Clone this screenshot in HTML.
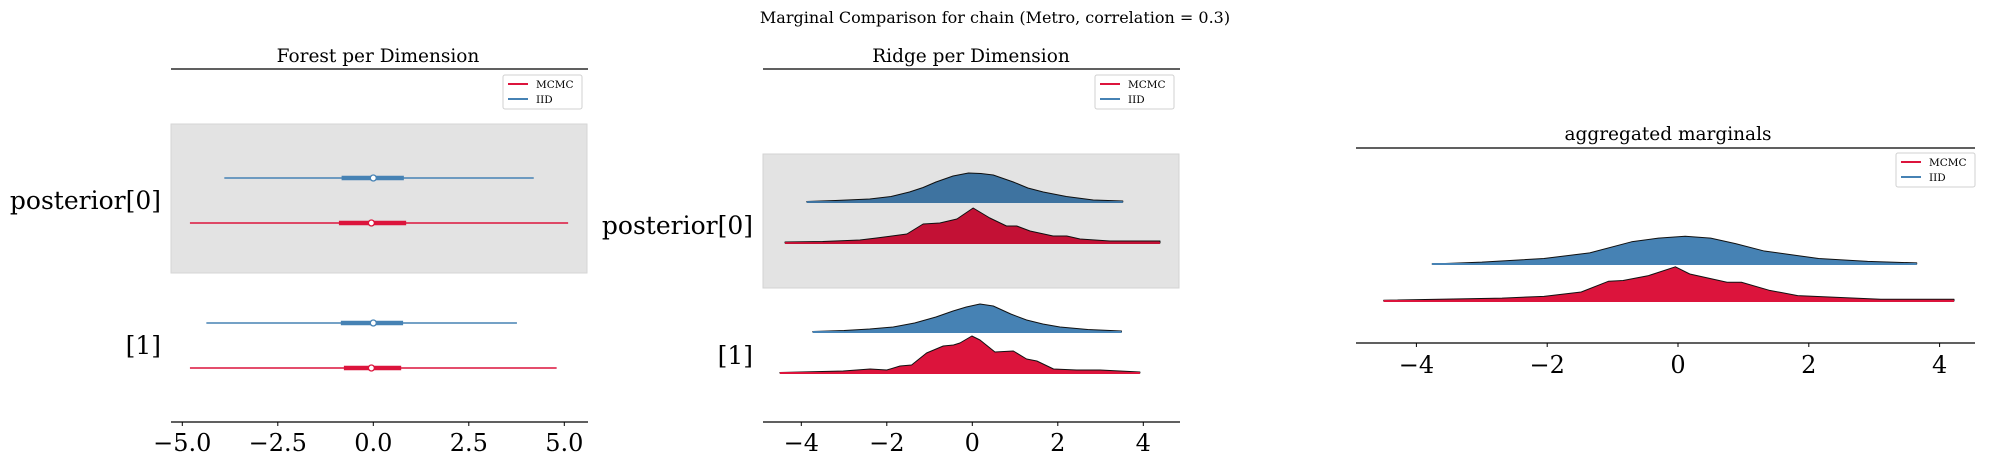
<!DOCTYPE html>
<html><head><meta charset="utf-8"><style>
html,body{margin:0;padding:0;background:#fff;}
svg{display:block;font-family:"DejaVu Serif","Liberation Serif",serif;}
</style></head><body>
<svg id="fig" width="1990" height="465" viewBox="0 0 1990 465" xmlns="http://www.w3.org/2000/svg">
<text x="995" y="23" font-size="16" text-anchor="middle">Marginal Comparison for chain (Metro, correlation = 0.3)</text>
</svg>
<script>
// ---- Forest data ----
const forestDims = ["posterior[0]", "[1]"];
const forestIidLo = [-3.9, -4.37];
const forestIidHi = [4.2, 3.76];
const forestIidQ1 = [-0.83, -0.85];
const forestIidQ3 = [0.8, 0.78];
const forestIidMed = [0.0, 0.0];
const forestMcmcLo = [-4.8, -4.8];
const forestMcmcHi = [5.1, 4.8];
const forestMcmcQ1 = [-0.9, -0.77];
const forestMcmcQ3 = [0.86, 0.73];
const forestMcmcMed = [-0.05, -0.05];
const forestTicks = [-5.0, -2.5, 0.0, 2.5, 5.0];
const forestTickLabels = ["\u22125.0", "\u22122.5", "0.0", "2.5", "5.0"];

// ---- Ridge data ----
const ridgeIid0X = [-3.87,-3.2,-2.4,-1.9,-1.47,-1.15,-0.85,-0.45,-0.09,0.2,0.49,0.96,1.3,1.66,2.2,2.83,3.52];
const ridgeIid0Y = [0.5,1.5,3,5.5,10,14.5,20,26,29,28.5,27,20,14,10,5.5,2,1];
const ridgeMcmc0X = [-4.38,-3.5,-2.63,-2.24,-1.53,-1.15,-0.76,-0.36,0.02,0.41,0.8,1.04,1.35,1.89,2.21,2.52,3.22,4.39];
const ridgeMcmc0Y = [1,1.5,3,5,9,19,20,24,35,25,17,17,12,7,7,4,2,2];
const ridgeIid1X = [-3.73,-3,-2.4,-1.85,-1.35,-0.85,-0.45,-0.14,0.18,0.49,0.9,1.27,1.65,2.05,2.7,3.49];
const ridgeIid1Y = [0.5,1.5,3,5,9,15,21,25,28,26,18,12,8,5,2.5,1];
const ridgeMcmc1X = [-4.5,-3.02,-2.39,-2.0,-1.69,-1.42,-1.07,-0.68,-0.44,-0.29,-0.01,0.18,0.53,0.96,1.27,1.51,1.9,2.44,2.99,3.92];
const ridgeMcmc1Y = [0.5,2,4,3,7,8,20,27,28,30,37,33,21,22,14,12,4,3,3,1];
const ridgeTicks = [-4, -2, 0, 2, 4];

// ---- Aggregated data ----
const aggIidX = [-3.76,-3,-2.05,-1.35,-0.71,-0.3,0.11,0.5,0.88,1.32,2.15,2.9,3.65];
const aggIidY = [0,5,15,30,60,70,75,70,55,35,15,7,3];
const aggMcmcX = [-4.5,-2.69,-2.05,-1.48,-1.06,-0.84,-0.46,-0.04,0.18,0.75,0.97,1.39,1.83,3.1,4.22];
const aggMcmcY = [2,8,13,25,55,57,70,95,75,52,52,30,15,5,5];
const aggTicks = [-4, -2, 0, 2, 4];

const NS = "http://www.w3.org/2000/svg";
const fig = document.getElementById('fig');
function mk(tag, attrs, parent) {
  const e = document.createElementNS(NS, tag);
  for (const k in attrs) e.setAttribute(k, attrs[k]);
  (parent || fig).appendChild(e);
  return e;
}
const RED = "#dc143c", BLUE = "#4682b4";

function axisBottom(g, x, x0, x1, y, ticks, labels, fs, ly) {
  const sp = mk('line', {x1:x0, x2:x1, y1:y, y2:y, stroke:'#000', 'stroke-width':1.2}, g);
  
  
  ticks.forEach((t, i) => {
    const tk = mk('line', {x1:x(t), x2:x(t), y1:y, y2:y+4, stroke:'#000', 'stroke-width':1}, g);
    
    
    const tl = mk('text', {x:x(t), y:ly, 'font-size':fs, 'text-anchor':'middle'}, g);
    tl.textContent = labels ? labels[i] : (t < 0 ? "\u2212" + Math.abs(t) : String(t));
    
    
  });
}
function topSpine(g, x0, x1, y) {
  const l = mk('line', {x1:x0, x2:x1, y1:y, y2:y, stroke:'#000', 'stroke-width':1.2}, g);
  
  
}
function title(g, cx, y, txt) {
  const t = mk('text', {x:cx, y:y, 'font-size':18.5, 'text-anchor':'middle'}, g);
  t.textContent = txt;
  
  
}
function legend(g, x, y) {
  const lg = mk('g', {}, g);
  
  
  mk('rect', {x:x, y:y, width:79, height:34, rx:2, fill:'#fff', stroke:'#d0d0d0', 'stroke-width':1}, lg);
  [["MCMC", RED], ["IID", BLUE]].forEach((d, i) => {
    const e = mk('g', {}, lg);
    
    
    mk('line', {x1:x+5, x2:x+25, y1:y+9+i*15, y2:y+9+i*15, stroke:d[1], 'stroke-width':2}, e);
    const t = mk('text', {x:x+33, y:y+13+i*15, 'font-size':10.5}, e);
    t.textContent = d[0];
  });
}
function ylabel(g, xr, y, txt) {
  const t = mk('text', {x:xr, y:y, 'font-size':25, 'text-anchor':'end'}, g);
  t.textContent = txt;
  
  
}
function ridge(g, x, xs, ys, base, scale, fill, name) {
  let d = "M" + x(xs[0]) + "," + base;
  xs.forEach((v, i) => { d += " L" + x(v) + "," + (base - ys[i] * scale); });
  d += " L" + x(xs[xs.length-1]) + "," + base + " Z";
  const p = mk('path', {d:d, fill:fill, stroke:'#111', 'stroke-width':1, 'stroke-linejoin':'round'}, g);
  
  
  const b = mk('line', {x1:x(xs[0]), x2:x(xs[xs.length-1]), y1:base, y2:base, stroke:fill, 'stroke-width':2}, g);
  
  
}

// ===== Forest panel =====
(function(){
  const g = mk('g', {});
  
  
  const x = v => 373.3 + v * 38.2;
  const rowY = [200, 345];
  const sh = mk('rect', {x:171, y:124, width:416, height:149, fill:'#e3e3e3', stroke:'#d6d6d6', 'stroke-width':1}, g);
  
  
  title(g, 378, 62, "Forest per Dimension");
  topSpine(g, 171, 588, 69);
  legend(g, 503, 75);
  forestDims.forEach((dname, i) => {
    ylabel(g, 161, rowY[i] + 9, dname);
    const series = [
      [forestIidLo[i], forestIidHi[i], forestIidQ1[i], forestIidQ3[i], forestIidMed[i], BLUE, rowY[i] - 22, 'iid'],
      [forestMcmcLo[i], forestMcmcHi[i], forestMcmcQ1[i], forestMcmcQ3[i], forestMcmcMed[i], RED, rowY[i] + 23, 'mcmc']
    ];
    series.forEach(s => {
      const sg = mk('g', {}, g);
      
      
      mk('line', {x1:x(s[0]), x2:x(s[1]), y1:s[6], y2:s[6], stroke:s[5], 'stroke-width':1.6}, sg);
      mk('line', {x1:x(s[2]), x2:x(s[3]), y1:s[6], y2:s[6], stroke:s[5], 'stroke-width':4.5}, sg);
      mk('circle', {cx:x(s[4]), cy:s[6], r:3, fill:'#fff', stroke:s[5], 'stroke-width':1.3}, sg);
    });
  });
  axisBottom(g, x, 171, 588, 422, forestTicks, forestTickLabels, 24, 451);
})();

// ===== Ridge panel =====
(function(){
  const g = mk('g', {});
  
  
  const x = v => 972.3 + v * 42.75;
  title(g, 971, 62, "Ridge per Dimension");
  topSpine(g, 763, 1180, 69);
  legend(g, 1095, 75);
  ridge(g, x, ridgeIid0X, ridgeIid0Y, 202, 1, BLUE, 'ridge-iid-dim0');
  ridge(g, x, ridgeMcmc0X, ridgeMcmc0Y, 243, 1, RED, 'ridge-mcmc-dim0');
  ridge(g, x, ridgeIid1X, ridgeIid1Y, 332, 1, BLUE, 'ridge-iid-dim1');
  ridge(g, x, ridgeMcmc1X, ridgeMcmc1Y, 373, 1, RED, 'ridge-mcmc-dim1');
  const sh = mk('rect', {x:763, y:154, width:416, height:134, fill:'rgba(0,0,0,0.11)', stroke:'#d3d3d3', 'stroke-width':1}, g);
  
  
  ylabel(g, 753, 234, "posterior[0]");
  ylabel(g, 753, 364, "[1]");
  axisBottom(g, x, 763, 1180, 422, ridgeTicks, null, 24, 451);
})();

// ===== Aggregated panel =====
(function(){
  const g = mk('g', {});
  
  
  const x = v => 1678 + v * 65.4;
  title(g, 1668, 140, "aggregated marginals");
  topSpine(g, 1356, 1975, 148);
  legend(g, 1896, 153);
  ridge(g, x, aggIidX, aggIidY, 264, 0.37, BLUE, 'agg-iid-density');
  ridge(g, x, aggMcmcX, aggMcmcY, 301, 0.36, RED, 'agg-mcmc-density');
  axisBottom(g, x, 1356, 1975, 343, aggTicks, null, 24, 373);
})();
</script>
</body></html>
